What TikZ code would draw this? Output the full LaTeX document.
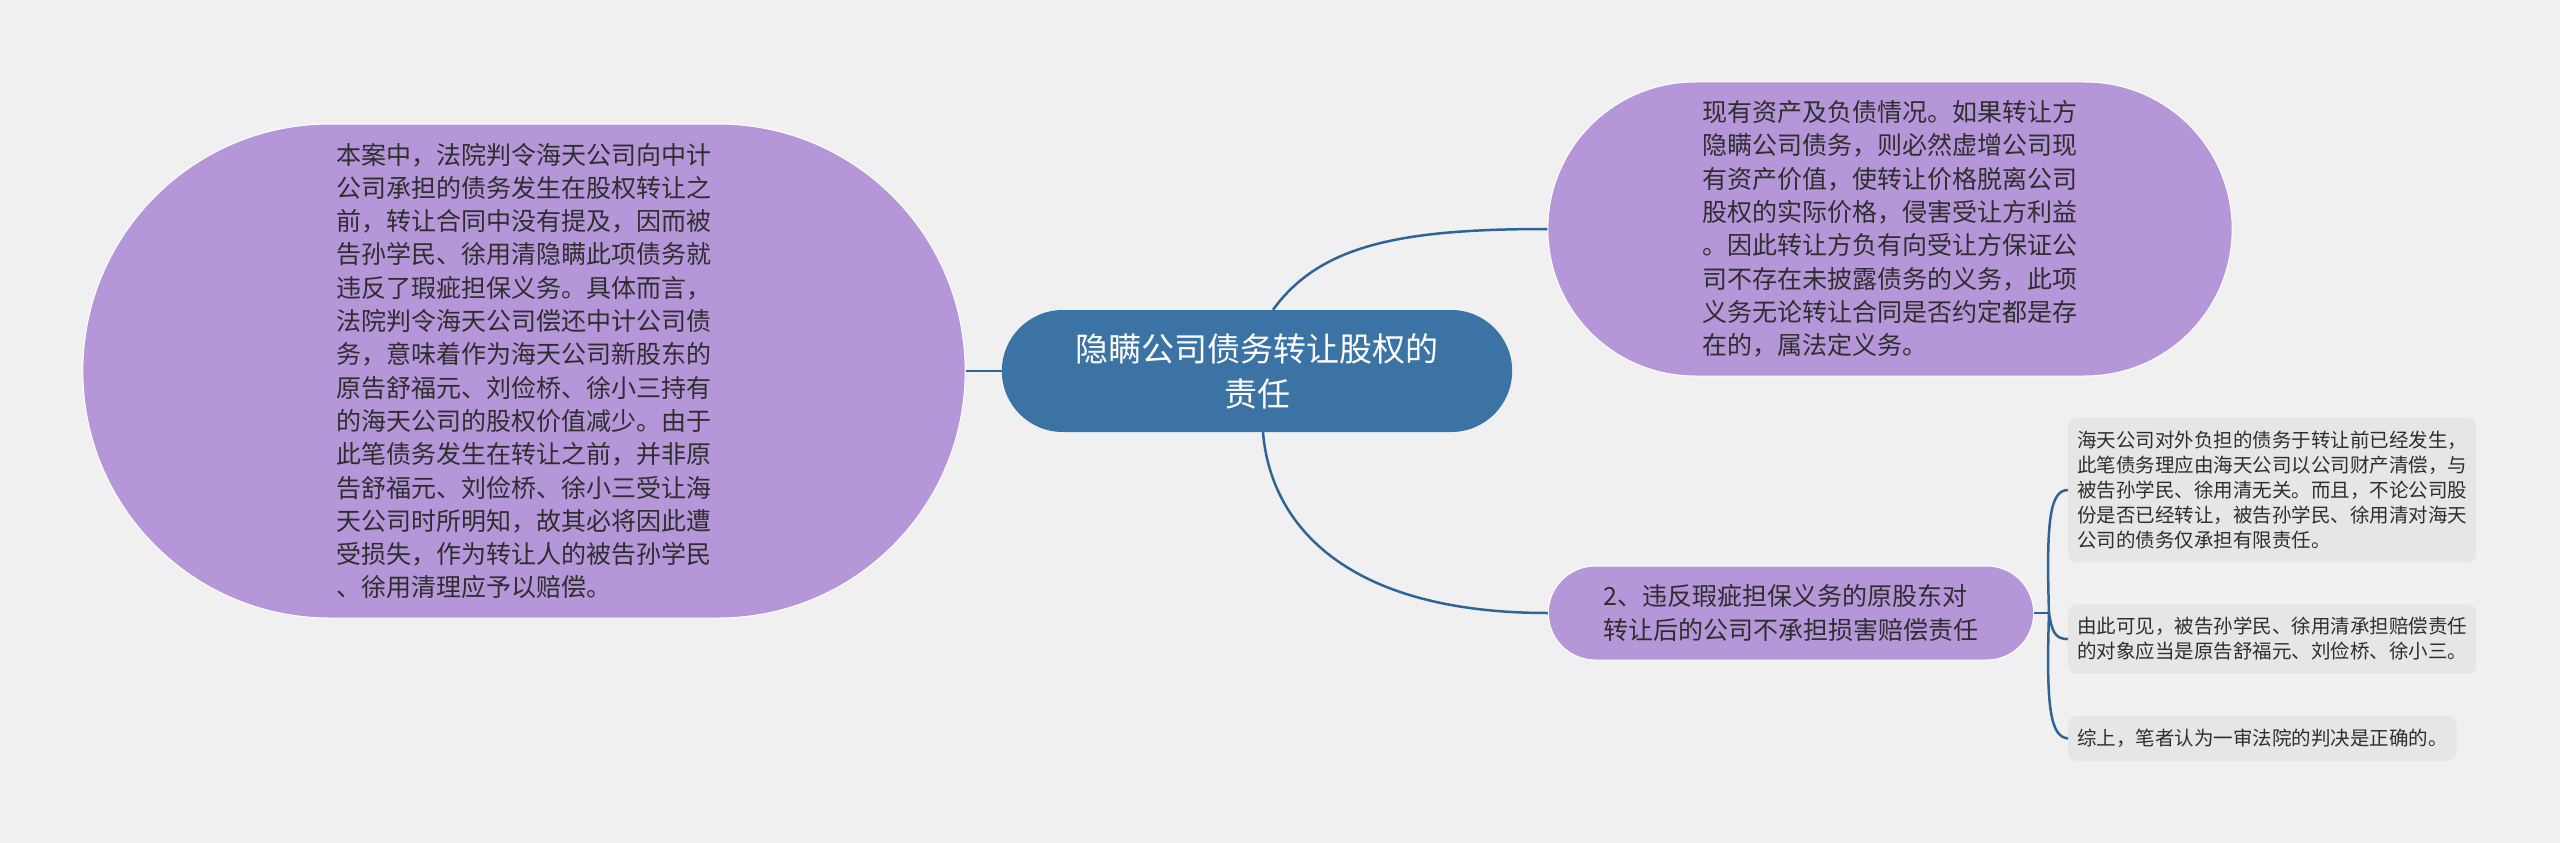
\documentclass[tikz,border=0pt]{standalone}
\usepackage{fontspec}
\newfontfamily\cjkfont{Noto Sans CJK SC}
\usepackage{xcolor}
\usetikzlibrary{positioning, shapes.misc}
\definecolor{PageGray}{HTML}{F0F0F0}
\definecolor{RootBlue}{HTML}{3C73A5}
\definecolor{LinkBlue}{HTML}{2F6496}
\definecolor{Lavender}{HTML}{B596D9}
\definecolor{LeafGray}{HTML}{E6E6E6}
\definecolor{InkText}{HTML}{2E2E2E}

\begin{document}
\begin{tikzpicture}[
    x=1pt, y=-1pt,
    rootbox/.style={
      rounded rectangle, fill=RootBlue,
      align=center, minimum width=517pt, minimum height=122pt,
      font=\cjkfont\fontsize{33}{45}\selectfont\color{white}
    },
    bubble/.style={
      rounded rectangle, fill=Lavender, draw=white, line width=1pt,
      align=left,
      font=\cjkfont\fontsize{25}{33.3}\selectfont\color{InkText}
    },
    leafbox/.style={
      rectangle, rounded corners=8pt, fill=LeafGray,
      align=left, inner xsep=9pt, inner ysep=13pt,
      font=\cjkfont\fontsize{19.5}{25}\selectfont\color{InkText}
    },
    link/.style={LinkBlue, line width=2.5pt}
  ]
  \fill[PageGray] (0,0) rectangle (2560,843);
  \useasboundingbox (0,0) rectangle (2560,843);

  \node[rootbox] (root) at (1257,371) {隐瞒公司债务转让股权的\\责任};
  \node[bubble, minimum width=889pt, minimum height=494pt] (case) at (524,371)
    {本案中，法院判令海天公司向中计\\公司承担的债务发生在股权转让之\\前，转让合同中没有提及，因而被\\告孙学民、徐用清隐瞒此项债务就\\违反了瑕疵担保义务。具体而言，\\法院判令海天公司偿还中计公司债\\务，意味着作为海天公司新股东的\\原告舒福元、刘俭桥、徐小三持有\\的海天公司的股权价值减少。由于\\此笔债务发生在转让之前，并非原\\告舒福元、刘俭桥、徐小三受让海\\天公司时所明知，故其必将因此遭\\受损失，作为转让人的被告孙学民\\、徐用清理应予以赔偿。};
  \node[bubble, minimum width=691pt, minimum height=294pt] (assets) at (1890,229)
    {现有资产及负债情况。如果转让方\\隐瞒公司债务，则必然虚增公司现\\有资产价值，使转让价格脱离公司\\股权的实际价格，侵害受让方利益\\。因此转让方负有向受让方保证公\\司不存在未披露债务的义务，此项\\义务无论转让合同是否约定都是存\\在的，属法定义务。};
  \node[bubble, minimum width=492pt, minimum height=94pt] (duty) at (1791,613)
    {2、违反瑕疵担保义务的原股东对\\转让后的公司不承担损害赔偿责任};

  \coordinate (fork) at (2049,613);
  \node[leafbox, anchor=west] (leafa) at (2068,490)
    {海天公司对外负担的债务于转让前已经发生，\\此笔债务理应由海天公司以公司财产清偿，与\\被告孙学民、徐用清无关。而且，不论公司股\\份是否已经转让，被告孙学民、徐用清对海天\\公司的债务仅承担有限责任。};
  \node[leafbox, below right=42pt and 0pt of leafa.south west] (leafb)
    {由此可见，被告孙学民、徐用清承担赔偿责任\\的对象应当是原告舒福元、刘俭桥、徐小三。};
  \node[leafbox, below right=42pt and 0pt of leafb.south west] (leafc)
    {综上，笔者认为一审法院的判决是正确的。};

  \draw[link] (root.west) -- (case.east);
  \draw[link] ([xshift=16pt]root.north) .. controls (1320,245) and (1400,229) .. (assets.west);
  \draw[link] ([xshift=6pt]root.south) .. controls (1270,520) and (1340,613) .. (duty.west);
  \draw[link] (duty.east) -- (fork);
  \draw[link] (fork) .. controls (2046,520) and (2050,490) .. (leafa.west);
  \draw[link] (fork) .. controls (2052,632) and (2055,639) .. (leafb.west);
  \draw[link] (fork) .. controls (2046,706) and (2050,737) .. (leafc.west);
\end{tikzpicture}
\end{document}
